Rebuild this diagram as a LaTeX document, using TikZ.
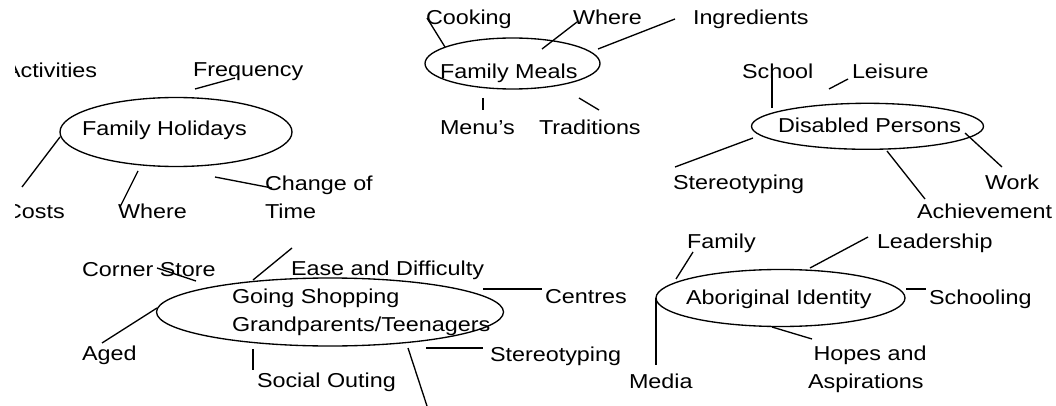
\documentclass[tikz,border=0pt]{standalone}
\usepackage{fontspec}
\setmainfont{Liberation Sans}[FakeStretch=1.16]
\usetikzlibrary{shapes.geometric}
\begin{document}
\begin{tikzpicture}[x=0.75pt,y=-0.75pt,line width=1pt,
  lbl/.style={anchor=base west,inner sep=0pt,outer sep=0pt,align=left,
    font=\fontsize{15.1pt}{21pt}\selectfont},
  bubble/.style 2 args={ellipse,draw,inner sep=0pt,outer sep=0pt,
    minimum width=#1*0.75pt,minimum height=#2*0.75pt}]
\useasboundingbox (0,0) rectangle (1056,406);

% ---- topic bubbles ----
\node[bubble={232}{69}] (holidays) at (176,132) {};
\node[bubble={175}{51}] (meals) at (512.5,63.5) {};
\node[bubble={232}{46}] (disabled) at (867.5,126.3) {};
\node[bubble={347}{68}] (shopping) at (330,312) {};
\node[bubble={249}{57}] (aboriginal) at (780.5,298) {};

% ---- Family Holidays ----
% (multi-line labels are placed by the baseline of their last line)
\begin{scope}
  \clip (15,0) rectangle (1056,406);
  \node[lbl] (activities) at (5,78) {Activities};
  \node[lbl] (costs) at (5,219) {Costs};
\end{scope}
\node[lbl] (frequency) at (193,77) {Frequency};
\node[lbl] (holidaysT) at (82,136) {Family Holidays};
\node[lbl] (whereH) at (118,219) {Where};
\node[lbl] (change) at (265,219) {Change of\\Time};
\draw (195,89) coordinate (fqA) -- (235,78) coordinate (fqB);
\draw (60,137) coordinate (csA) -- (22,187) coordinate (csB);
\draw (138,171) coordinate (whA) -- (120,207) coordinate (whB);
\draw (215,177) coordinate (chA) -- (272,188) coordinate (chB);

% ---- Family Meals ----
\node[lbl] (cooking) at (426,25) {Cooking};
\node[lbl] (whereM) at (573,25) {Where};
\node[lbl] (ingredients) at (693,25) {Ingredients};
\node[lbl] (mealsT) at (440,79) {Family Meals};
\node[lbl] (menus) at (440,135) {Menu’s};
\node[lbl] (traditions) at (539,135) {Traditions};
\draw (427,18) coordinate (ckA) -- (445,47) coordinate (ckB);
\draw (577,22) coordinate (wmA) -- (542,49) coordinate (wmB);
\draw (675,19) coordinate (inA) -- (598,49) coordinate (inB);
\draw (483,98) coordinate (mnA) -- (483,110) coordinate (mnB);
\draw (579,98) coordinate (trA) -- (599,110) coordinate (trB);

% ---- Disabled Persons ----
\node[lbl] (school) at (742,79) {School};
\node[lbl] (leisure) at (852,79) {Leisure};
\node[lbl] (disabledT) at (778,133) {Disabled Persons};
\node[lbl] (stereoD) at (673,190) {Stereotyping};
\node[lbl] (work) at (985,190) {Work};
\node[lbl] (achieve) at (917,218) {Achievement};
\draw (772,73) coordinate (scA) -- (772,108) coordinate (scB);
\draw (829,89) coordinate (lsA) -- (848,79) coordinate (lsB);
\draw (753,138) coordinate (stA) -- (675,167) coordinate (stB);
\draw (887,151) coordinate (acA) -- (925,199) coordinate (acB);
\draw (965,133) coordinate (wkA) -- (1002,167) coordinate (wkB);

% ---- Going Shopping ----
\node[lbl] (corner) at (82,276) {Corner Store};
\node[lbl] (ease) at (291,275) {Ease and Difficulty};
\node[lbl] (shoppingT) at (232,331) {Going Shopping\\Grandparents/Teenagers};
\node[lbl] (centres) at (545,303) {Centres};
\node[lbl] (aged) at (82,360) {Aged};
\node[lbl] (stereoS) at (490,361) {Stereotyping};
\node[lbl] (social) at (257,387) {Social Outing};
\draw (157,268) coordinate (coA) -- (196,281) coordinate (coB);
\draw (253,280) coordinate (upA) -- (292,248) coordinate (upB);
\draw (157,308) coordinate (agA) -- (102,343) coordinate (agB);
\draw (253,349) coordinate (soA) -- (253,370) coordinate (soB);
\draw (408,348) coordinate (dnA) -- (427,406) coordinate (dnB);
\draw (483,289) coordinate (ceA) -- (542,289) coordinate (ceB);
\draw (426,348) coordinate (ssA) -- (483,348) coordinate (ssB);

% ---- Aboriginal Identity ----
\node[lbl] (family) at (687,248) {Family};
\node[lbl] (leader) at (877,248) {Leadership};
\node[lbl] (aboriginalT) at (686,304) {Aboriginal Identity};
\node[lbl] (schooling) at (929,304) {Schooling};
\node[lbl] (media) at (629,388) {Media};
\node[lbl] (hopes) at (808,388) {\hspace{0.278em}Hopes and\\Aspirations};
\draw (693,252) coordinate (faA) -- (676,279) coordinate (faB);
\draw (868,237) coordinate (leA) -- (810,268) coordinate (leB);
\draw (906,289) coordinate (sgA) -- (926,289) coordinate (sgB);
\draw (656,298) coordinate (meA) -- (656,365) coordinate (meB);
\draw (772,327) coordinate (hoA) -- (812,339) coordinate (hoB);
\end{tikzpicture}
\end{document}
